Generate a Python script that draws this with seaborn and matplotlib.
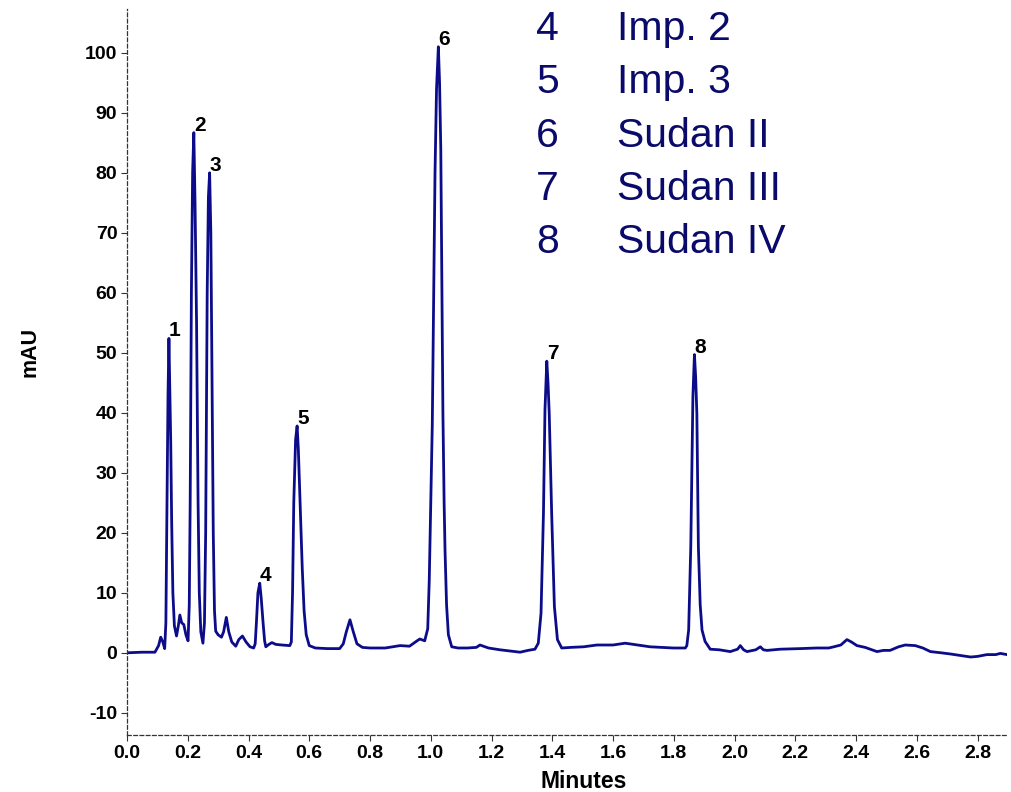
import numpy as np
import pandas as pd
import matplotlib
matplotlib.use("Agg")
import matplotlib.pyplot as plt
import seaborn as sns

# ---- data ----
time_min = [0.000, 0.050, 0.092, 0.104, 0.111, 0.118, 0.124, 0.128, 0.131, 0.135,
            0.138, 0.141, 0.144, 0.147, 0.151, 0.156, 0.163, 0.169, 0.174, 0.180,
            0.187, 0.194, 0.201, 0.205, 0.208, 0.212, 0.216, 0.220, 0.224, 0.229,
            0.234, 0.238, 0.243, 0.250, 0.255, 0.259, 0.264, 0.268, 0.272, 0.276,
            0.280, 0.284, 0.288, 0.292, 0.300, 0.311, 0.318, 0.327, 0.335, 0.345,
            0.358, 0.368, 0.380, 0.392, 0.405, 0.417, 0.422, 0.426, 0.431, 0.437,
            0.442, 0.448, 0.453, 0.457, 0.467, 0.477, 0.490, 0.510, 0.536, 0.541,
            0.545, 0.549, 0.555, 0.560, 0.564, 0.568, 0.573, 0.577, 0.583, 0.590,
            0.600, 0.620, 0.660, 0.700, 0.712, 0.722, 0.734, 0.745, 0.757, 0.775,
            0.800, 0.850, 0.899, 0.930, 0.955, 0.964, 0.980, 0.990, 0.995, 0.998,
            1.001, 1.005, 1.008, 1.014, 1.019, 1.025, 1.029, 1.033, 1.036, 1.040,
            1.044, 1.047, 1.052, 1.058, 1.069, 1.090, 1.120, 1.150, 1.162, 1.190,
            1.228, 1.260, 1.294, 1.320, 1.343, 1.354, 1.363, 1.371, 1.376, 1.382,
            1.386, 1.390, 1.398, 1.407, 1.417, 1.431, 1.460, 1.503, 1.547, 1.600,
            1.640, 1.680, 1.722, 1.760, 1.799, 1.838, 1.843, 1.849, 1.856, 1.863,
            1.868, 1.872, 1.876, 1.881, 1.887, 1.893, 1.903, 1.920, 1.950, 1.986,
            2.010, 2.019, 2.030, 2.041, 2.070, 2.085, 2.095, 2.107, 2.150, 2.217,
            2.270, 2.310, 2.327, 2.350, 2.370, 2.385, 2.403, 2.430, 2.469, 2.490,
            2.512, 2.540, 2.562, 2.595, 2.620, 2.645, 2.680, 2.711, 2.750, 2.777,
            2.800, 2.831, 2.860, 2.875, 2.897]
absorbance_mau = [0.0, 0.1, 0.1, 1.2, 2.6, 1.8, 0.7, 5.0, 22.0, 43.0,
                  52.4, 44.0, 35.0, 22.0, 10.0, 4.5, 2.8, 4.5, 6.3, 5.0,
                  4.7, 3.0, 2.0, 8.0, 25.0, 60.0, 80.0, 86.7, 75.0, 55.0,
                  25.0, 10.0, 3.5, 1.6, 5.0, 20.0, 60.0, 76.0, 80.0, 70.0,
                  45.0, 20.0, 7.0, 3.6, 3.0, 2.6, 3.5, 5.9, 3.5, 1.8,
                  1.1, 2.2, 2.8, 1.8, 1.0, 0.8, 1.5, 5.0, 10.0, 11.6,
                  9.0, 5.0, 2.0, 1.0, 1.4, 1.7, 1.4, 1.3, 1.2, 1.8,
                  10.0, 25.0, 35.5, 37.8, 34.0, 28.0, 20.0, 14.0, 7.0, 3.0,
                  1.2, 0.8, 0.7, 0.7, 1.5, 3.5, 5.5, 3.5, 1.5, 0.9,
                  0.8, 0.8, 1.2, 1.1, 2.0, 2.3, 2.0, 4.0, 12.0, 20.0,
                  28.0, 38.0, 52.0, 80.0, 94.0, 101.0, 95.0, 84.0, 65.0, 40.0,
                  25.0, 17.0, 8.0, 3.0, 1.0, 0.8, 0.8, 0.9, 1.3, 0.8,
                  0.5, 0.3, 0.1, 0.4, 0.6, 1.6, 6.6, 23.3, 40.5, 48.6,
                  45.0, 39.9, 23.3, 7.7, 2.2, 0.8, 0.9, 1.0, 1.3, 1.3,
                  1.6, 1.3, 1.0, 0.9, 0.8, 0.8, 1.2, 3.8, 17.7, 42.7,
                  49.7, 46.0, 39.9, 17.7, 8.0, 3.8, 1.9, 0.6, 0.5, 0.2,
                  0.6, 1.2, 0.5, 0.2, 0.5, 1.0, 0.5, 0.4, 0.6, 0.7,
                  0.8, 0.8, 1.0, 1.3, 2.2, 1.8, 1.2, 0.9, 0.2, 0.4,
                  0.4, 1.0, 1.3, 1.2, 0.8, 0.2, 0.0, -0.2, -0.5, -0.7,
                  -0.6, -0.3, -0.3, -0.1, -0.3]

peak_labels = ["1", "2", "3", "4", "5", "6", "7", "8"]
peak_times = [0.138, 0.220, 0.272, 0.437, 0.560, 1.025, 1.382, 1.868]
peak_heights = [52.4, 86.7, 80.0, 11.6, 37.8, 101.0, 48.6, 49.7]

legend_numbers = ["4", "5", "6", "7", "8"]
legend_names = ["Imp. 2", "Imp. 3", "Sudan II", "Sudan III", "Sudan IV"]

x_ticks = [0.0, 0.2, 0.4, 0.6, 0.8, 1.0, 1.2, 1.4, 1.6, 1.8, 2.0, 2.2, 2.4, 2.6, 2.8]
y_ticks = [-10, 0, 10, 20, 30, 40, 50, 60, 70, 80, 90, 100]

# ---- styling ----
sns.set_style("white")
plt.rcParams['font.family'] = ['Liberation Sans', 'DejaVu Sans']

line_color = "#0c0c8a"
text_navy = "#0a0a6a"

fig = plt.figure(figsize=(10.12, 7.92), dpi=100)
ax = fig.add_axes([127 / 1012, 1 - 735 / 792, 880 / 1012, 726 / 792])

df = pd.DataFrame({"Minutes": time_min, "mAU": absorbance_mau})
sns.lineplot(data=df, x="Minutes", y="mAU", ax=ax, color=line_color,
             linewidth=2.0, estimator=None, sort=False)

ax.set_xlim(0, 2.897)
ax.set_ylim(-13.7, 107.3)
ax.set_xticks(x_ticks)
ax.set_xticklabels([f"{v:.1f}" for v in x_ticks])
ax.set_yticks(y_ticks)
ax.set_yticklabels([str(v) for v in y_ticks])

for lbl in ax.get_xticklabels() + ax.get_yticklabels():
    lbl.set_fontweight("bold")
    lbl.set_fontsize(14)
    lbl.set_color("black")

ax.tick_params(axis="both", which="major", direction="out", length=4,
               width=0.8, color="#333333", pad=3, bottom=True, left=True)

for side in ["top", "right"]:
    ax.spines[side].set_visible(False)
for side in ["left", "bottom"]:
    ax.spines[side].set_visible(True)
    ax.spines[side].set_color("#333333")
    ax.spines[side].set_linewidth(0.9)
    ax.spines[side].set_linestyle((0, (3, 2)))

ax.set_xlabel("")
ax.set_ylabel("")
fig.text(30 / 1012, 1 - 352 / 792, "mAU", rotation=90, ha="center", va="center",
         fontsize=15.5, fontweight="bold", color="black")
fig.text(584 / 1012, 1 - 781 / 792, "Minutes", ha="center", va="center",
         fontsize=16.5, fontweight="bold", color="black")

# peak labels
for lab, tx, hy in zip(peak_labels, peak_times, peak_heights):
    ax.annotate(lab, xy=(tx, hy), xytext=(0, -1.5), textcoords="offset points",
                ha="left", va="bottom", fontsize=15, fontweight="bold",
                color="black")

# compound list (top right)
row_step = 53.3
for i, (num, name) in enumerate(zip(legend_numbers, legend_names)):
    yb = 1 - (40 + i * row_step) / 792
    fig.text(536 / 1012, yb, num, ha="left", va="baseline", fontsize=29.5,
             color=text_navy)
    fig.text(617 / 1012, yb, name, ha="left", va="baseline", fontsize=29.5,
             color=text_navy)

fig.savefig("out.png", dpi=100)
